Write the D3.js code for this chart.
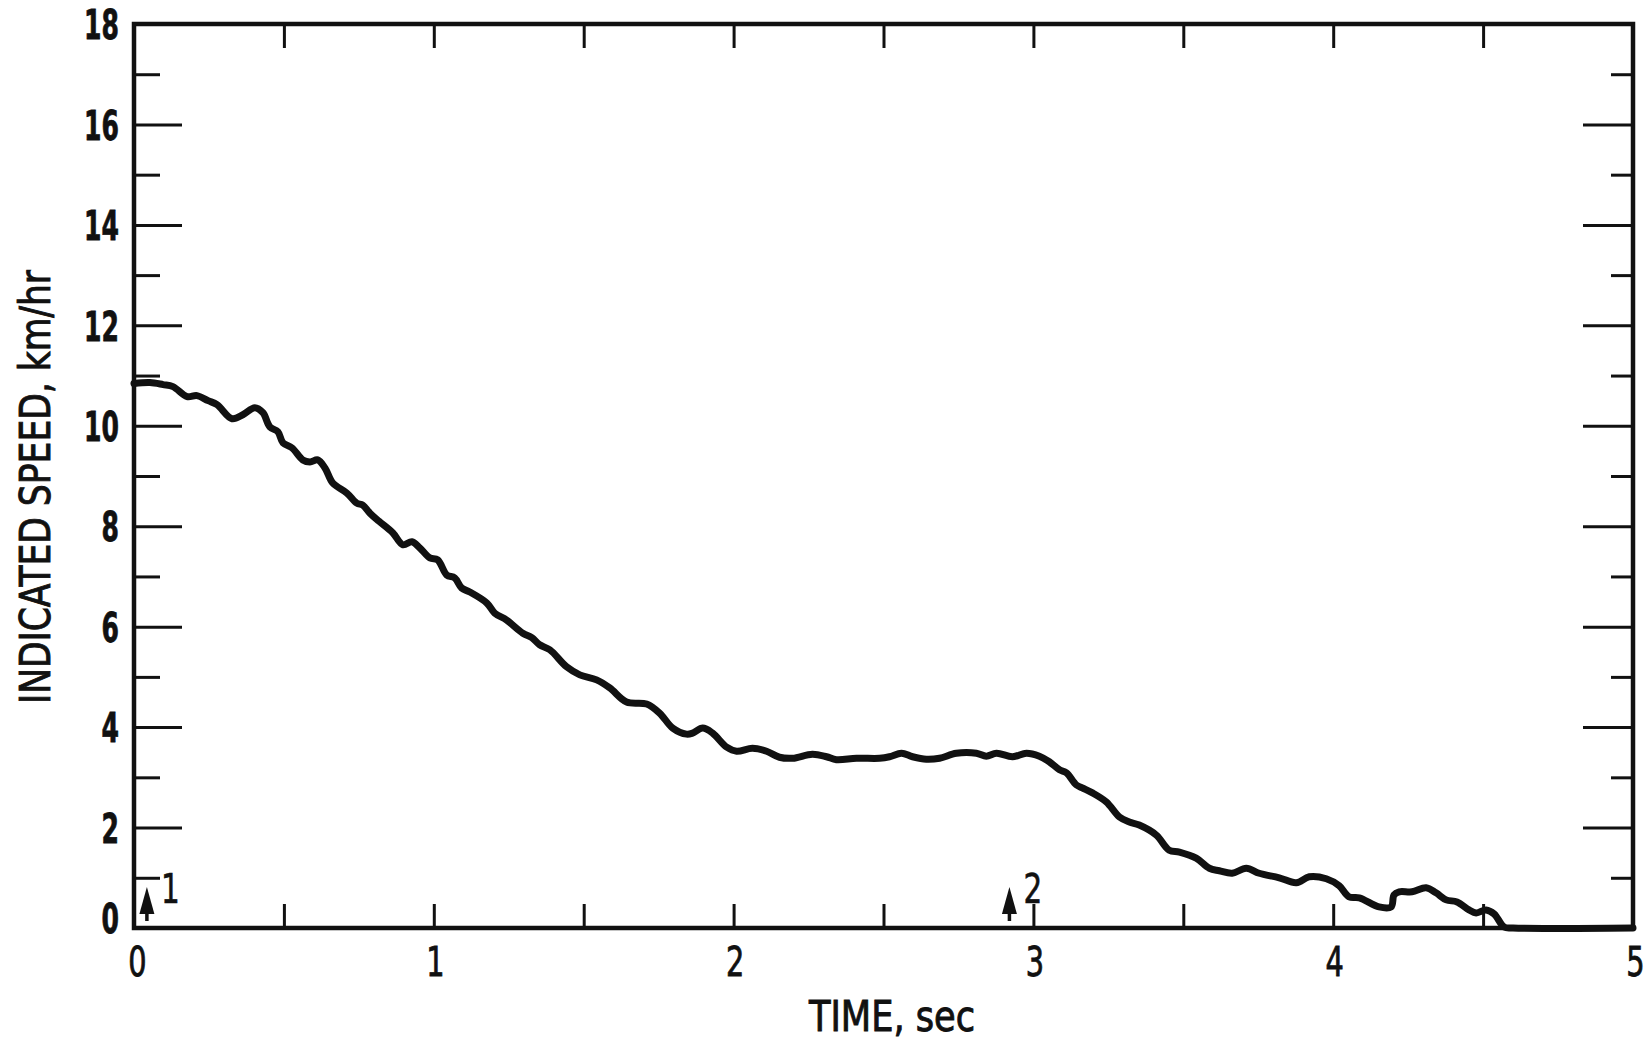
<!DOCTYPE html>
<html>
<head>
<meta charset="utf-8">
<script src="https://cdn.jsdelivr.net/npm/d3@7"></script>
<style>
  html, body { margin: 0; padding: 0; background: #fff; }
  svg { display: block; }
  text { font-family: "Liberation Sans Narrow", "DejaVu Sans Condensed", "Noto Sans", sans-serif; fill: #111; }
</style>
</head>
<body>
<svg id="chart" width="1652" height="1042"></svg>
<script>
// Speed trace: [time in sec, indicated speed in km/hr]
const trace = [
  [0.000, 10.84], [0.053, 10.86], [0.097, 10.82], [0.130, 10.78], [0.177, 10.58],
  [0.210, 10.60], [0.247, 10.50], [0.277, 10.42], [0.327, 10.14], [0.363, 10.22],
  [0.403, 10.36], [0.430, 10.26], [0.453, 9.98], [0.480, 9.88], [0.497, 9.66],
  [0.527, 9.56], [0.563, 9.32], [0.587, 9.28], [0.613, 9.32], [0.637, 9.16],
  [0.663, 8.86], [0.710, 8.66], [0.743, 8.46], [0.763, 8.42], [0.787, 8.26],
  [0.817, 8.10], [0.863, 7.87], [0.897, 7.63], [0.927, 7.69], [0.953, 7.57],
  [0.987, 7.37], [1.013, 7.33], [1.043, 7.03], [1.070, 6.97], [1.093, 6.77],
  [1.120, 6.69], [1.177, 6.47], [1.203, 6.27], [1.243, 6.13], [1.297, 5.87],
  [1.327, 5.78], [1.353, 5.64], [1.387, 5.54], [1.443, 5.20], [1.487, 5.04],
  [1.543, 4.94], [1.587, 4.78], [1.643, 4.50], [1.710, 4.46], [1.753, 4.28],
  [1.797, 3.98], [1.843, 3.86], [1.863, 3.88], [1.897, 3.98], [1.930, 3.88],
  [1.977, 3.60], [2.010, 3.52], [2.063, 3.58], [2.110, 3.52], [2.153, 3.40],
  [2.197, 3.38], [2.263, 3.46], [2.310, 3.41], [2.343, 3.35], [2.410, 3.38],
  [2.487, 3.38], [2.520, 3.41], [2.560, 3.48], [2.597, 3.41], [2.643, 3.36],
  [2.687, 3.38], [2.743, 3.48], [2.810, 3.48], [2.843, 3.42], [2.877, 3.48],
  [2.930, 3.41], [2.977, 3.48], [3.020, 3.42], [3.053, 3.31], [3.087, 3.15],
  [3.110, 3.09], [3.143, 2.85], [3.163, 2.79], [3.197, 2.69], [3.243, 2.51],
  [3.287, 2.21], [3.320, 2.11], [3.353, 2.05], [3.410, 1.85], [3.453, 1.55],
  [3.487, 1.51], [3.543, 1.39], [3.587, 1.19], [3.620, 1.14], [3.663, 1.09],
  [3.710, 1.19], [3.753, 1.09], [3.820, 1.00], [3.877, 0.90], [3.920, 1.02],
  [3.977, 0.98], [4.020, 0.84], [4.053, 0.62], [4.087, 0.60], [4.153, 0.42],
  [4.193, 0.42], [4.203, 0.66], [4.220, 0.72], [4.263, 0.72], [4.310, 0.80],
  [4.343, 0.70], [4.377, 0.56], [4.413, 0.52], [4.453, 0.36], [4.477, 0.30],
  [4.510, 0.36], [4.537, 0.28], [4.570, 0.02], [4.600, 0.00], [5.000, 0.00]
];

// Event markers along the time axis
const markerTimes = [0.043, 2.92];
const markerLabels = ["1", "2"];

// Axis ticks
const xMajorTicks = [0, 1, 2, 3, 4, 5];
const xAllTicks = [0.5, 1, 1.5, 2, 2.5, 3, 3.5, 4, 4.5];
const yMajorTicks = [0, 2, 4, 6, 8, 10, 12, 14, 16, 18];
const yMinorTicks = [1, 3, 5, 7, 9, 11, 13, 15, 17];

const xTitle = "TIME, sec";
const yTitle = "INDICATED SPEED, km/hr";

const margin = { left: 134, top: 24, right: 1652 - 1633, bottom: 1042 - 928 };
const W = 1652 - margin.left - margin.right;
const H = 1042 - margin.top - margin.bottom;

const svg = d3.select("#chart");
const g = svg.append("g").attr("transform", `translate(${margin.left},${margin.top})`);

const x = d3.scaleLinear().domain([0, 5]).range([0, W]);
const y = d3.scaleLinear().domain([0, 18]).range([H, 0]);

// Lettering is narrow: squeeze glyphs horizontally
const yLabelSqueeze = 0.68;
const xLabelSqueeze = 0.8;

function styleAxis(sel, width) {
  sel.select(".domain").remove();
  sel.selectAll(".tick line").attr("stroke", "#111").attr("stroke-width", width);
}

// Left axis: labelled even ticks, short odd ticks
const leftMajor = g.append("g")
  .call(d3.axisLeft(y).tickValues(yMajorTicks).tickSize(-48).tickPadding(15).tickFormat(d3.format("d")));
styleAxis(leftMajor, 3);
leftMajor.selectAll("text")
  .attr("font-size", 41).attr("font-weight", "bold").attr("fill", "#111")
  .attr("stroke", "#111").attr("stroke-width", 0.8)
  .attr("x", -15 / yLabelSqueeze)
  .attr("transform", `scale(${yLabelSqueeze},1)`)
  .attr("dy", d => d === 0 ? "0.1em" : "0.36em");
leftMajor.selectAll(".tick line").filter(d => d === 0 || d === 18).remove();

const leftMinor = g.append("g")
  .call(d3.axisLeft(y).tickValues(yMinorTicks).tickSize(-26).tickFormat(""));
styleAxis(leftMinor, 3);

// Right axis
const rightMajor = g.append("g").attr("transform", `translate(${W},0)`)
  .call(d3.axisRight(y).tickValues(yMajorTicks.filter(d => d > 0 && d < 18)).tickSize(-50).tickFormat(""));
styleAxis(rightMajor, 3);
const rightMinor = g.append("g").attr("transform", `translate(${W},0)`)
  .call(d3.axisRight(y).tickValues(yMinorTicks).tickSize(-22).tickFormat(""));
styleAxis(rightMinor, 3);

// Bottom axis: ticks every half second, labels on whole seconds
const bottomTicks = g.append("g").attr("transform", `translate(0,${H})`)
  .call(d3.axisBottom(x).tickValues(xAllTicks).tickSize(-24).tickFormat(""));
styleAxis(bottomTicks, 3);
const bottomLabels = g.append("g").attr("transform", `translate(0,${H})`)
  .call(d3.axisBottom(x).tickValues(xMajorTicks).tickSize(0).tickFormat(d3.format("d")));
bottomLabels.select(".domain").remove();
bottomLabels.selectAll("text")
  .attr("font-size", 40).attr("fill", "#111")
  .attr("stroke", "#111").attr("stroke-width", 0.8)
  .attr("y", 48).attr("dy", null)
  .attr("x", d => (d === 0 ? 3 : (d === 5 ? 2 : 1)) / xLabelSqueeze)
  .attr("transform", `scale(${xLabelSqueeze},1)`);

// Top axis
const topTicks = g.append("g")
  .call(d3.axisTop(x).tickValues(xAllTicks).tickSize(-24).tickFormat(""));
styleAxis(topTicks, 3);

// Frame
g.append("rect")
  .attr("x", 0).attr("y", 0).attr("width", W).attr("height", H)
  .attr("fill", "none").attr("stroke", "#111").attr("stroke-width", 4.5);

// Speed trace
const line = d3.line()
  .x(d => x(d[0]))
  .y(d => y(d[1]))
  .curve(d3.curveCatmullRom.alpha(0.5));

g.append("path")
  .datum(trace)
  .attr("fill", "none")
  .attr("stroke", "#111")
  .attr("stroke-width", 7)
  .attr("stroke-linejoin", "round")
  .attr("stroke-linecap", "round")
  .attr("d", line);

// Event markers: upward arrows with numbers
const markers = g.append("g").selectAll("g")
  .data(markerTimes.map((t, i) => ({ t, label: markerLabels[i] })))
  .join("g")
  .attr("transform", d => `translate(${x(d.t)},${H})`);

markers.append("line")
  .attr("x1", 0).attr("x2", 0).attr("y1", -7).attr("y2", -22)
  .attr("stroke", "#111").attr("stroke-width", 3.5);
markers.append("path")
  .attr("d", "M0,-41 L7.5,-14 L-7.5,-14 Z")
  .attr("fill", "#111");
markers.append("text")
  .attr("x", 14 / xLabelSqueeze).attr("y", -25)
  .attr("font-size", 41)
  .attr("stroke", "#111").attr("stroke-width", 0.6)
  .attr("transform", `scale(${xLabelSqueeze},1)`)
  .text(d => d.label);

// Axis titles
svg.append("text")
  .attr("x", 892).attr("y", 1031)
  .attr("text-anchor", "middle")
  .attr("font-size", 42)
  .attr("stroke", "#111").attr("stroke-width", 0.9)
  .attr("textLength", 166)
  .attr("lengthAdjust", "spacingAndGlyphs")
  .text(xTitle);

svg.append("text")
  .attr("transform", "translate(50,487) rotate(-90)")
  .attr("text-anchor", "middle")
  .attr("font-size", 43)
  .attr("stroke", "#111").attr("stroke-width", 0.9)
  .attr("textLength", 434)
  .attr("lengthAdjust", "spacingAndGlyphs")
  .text(yTitle);
</script>
</body>
</html>
